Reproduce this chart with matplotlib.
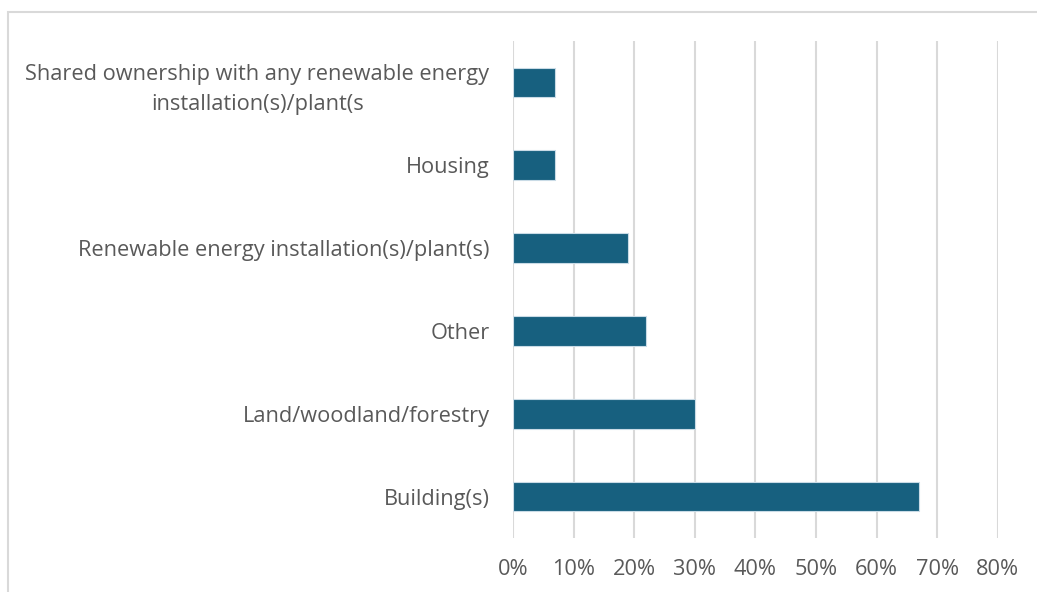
import matplotlib.pyplot as plt
from matplotlib.patches import Rectangle
from matplotlib.ticker import PercentFormatter

### data ###
categories = ["Shared ownership with any renewable energy\ninstallation(s)/plant(s",
              "Housing",
              "Renewable energy installation(s)/plant(s)",
              "Other",
              "Land/woodland/forestry",
              "Building(s)"]
values = [7, 7, 19, 22, 30, 67]
x_ticks = [0, 10, 20, 30, 40, 50, 60, 70, 80]

plt.rcParams['font.family'] = ['Open Sans', 'DejaVu Sans']

fig = plt.figure(figsize=(10.37, 5.92), dpi=100)
# outer chart frame (runs off the right and bottom edges)
fig.patches.append(Rectangle((8/1037, -0.1), 1.2, 1 - 12/592 + 0.1,
                             transform=fig.transFigure, fill=False,
                             edgecolor='#d9d9d9', linewidth=1.5))

ax = fig.add_axes([513/1037, 1 - 538/592, (997.7 - 513)/1037, (538 - 41)/592])
ypos = list(range(len(categories)))
ax.barh(ypos, values, height=0.36, color='#17607f', edgecolor='#c9dbe6',
        linewidth=0.8, zorder=3)
ax.set_ylim(len(categories) - 0.5, -0.5)
ax.set_xlim(0, 80)
ax.set_xticks(x_ticks)
ax.xaxis.set_major_formatter(PercentFormatter(decimals=0))
ax.set_yticks(ypos)
ax.set_yticklabels(categories, ha='right', multialignment='center', linespacing=1.55)
ax.grid(axis='x', color='#d9d9d9', linewidth=1.5, zorder=0)
for s in ax.spines.values():
    s.set_visible(False)
ax.tick_params(axis='both', length=0, colors='#595959', labelsize=15.7)
ax.tick_params(axis='y', pad=17)
ax.tick_params(axis='x', pad=15)

fig.savefig('out.png', dpi=100)
